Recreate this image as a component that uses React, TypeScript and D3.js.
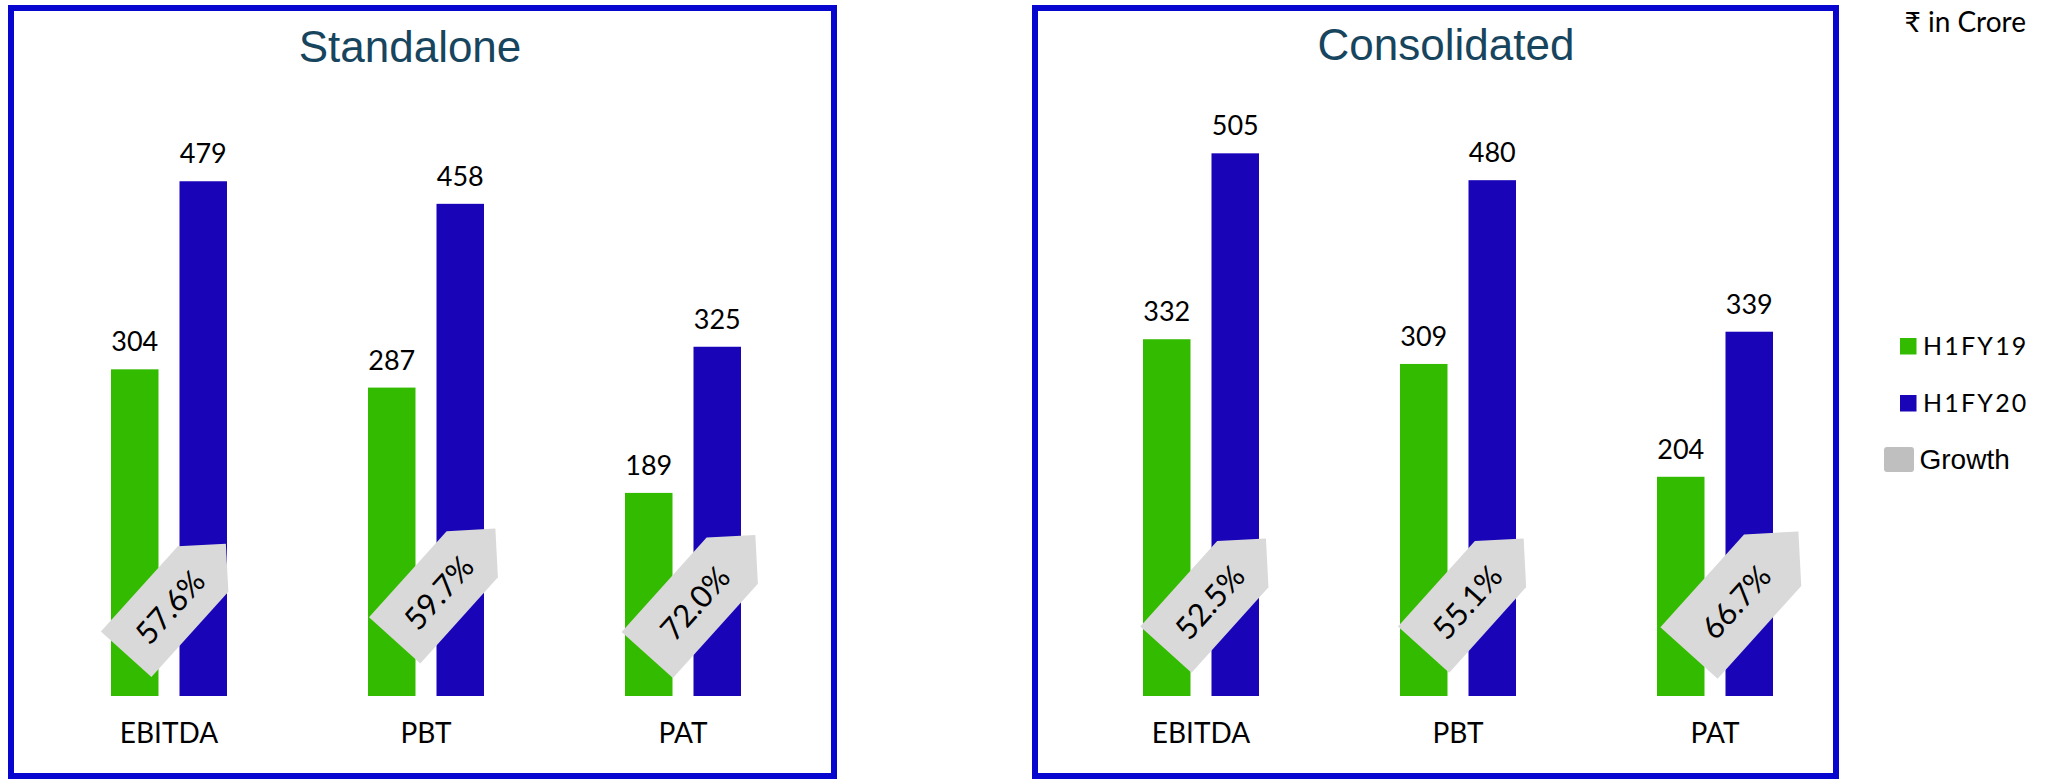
import React from "react";
import * as d3 from "d3";

// ---------- data ----------
const categories = ["EBITDA", "PBT", "PAT"];
const seriesNames = ["H1FY19", "H1FY20"];
const standaloneH1FY19 = [304, 287, 189];
const standaloneH1FY20 = [479, 458, 325];
const consolidatedH1FY19 = [332, 309, 204];
const consolidatedH1FY20 = [505, 480, 339];
const standaloneGrowth = ["57.6%", "59.7%", "72.0%"];
const consolidatedGrowth = ["52.5%", "55.1%", "66.7%"];
const panelTitles = ["Standalone", "Consolidated"];
const unitLabel = "₹ in Crore";
const growthLabel = "Growth";

// ---------- layout / style ----------
const W = 2049;
const H = 779;
const GREEN = "#33BB00";
const BLUE = "#1904B8";
const FRAME = "#0606CF";
const TAG = "#D9D9D9";
const TITLE = "#17455E";
const LATO = "Lato, 'Noto Sans', 'DejaVu Sans', sans-serif";
const ARIAL = "'Liberation Sans', Arial, sans-serif";

const y = d3.scaleLinear().domain([0, 500]).range([696, 158.7]);

type TagLayout = { dx: number; cy: number; len: number; h: number };

const panels = [
  {
    title: panelTitles[0],
    frame: { x0: 11, x1: 834 },
    titleX: 410,
    titleY: 62,
    range: [40.5, 811.5] as [number, number],
    a: standaloneH1FY19,
    b: standaloneH1FY20,
    growth: standaloneGrowth,
    tags: [
      { dx: 7, cy: 599, len: 115, h: 68 },
      { dx: 19, cy: 584.5, len: 116, h: 69 },
      { dx: 18.3, cy: 595, len: 127, h: 69 },
    ] as TagLayout[],
  },
  {
    title: panelTitles[1],
    frame: { x0: 1035, x1: 1836 },
    titleX: 1446,
    titleY: 60,
    range: [1072.5, 1843.5] as [number, number],
    a: consolidatedH1FY19,
    b: consolidatedH1FY20,
    growth: consolidatedGrowth,
    tags: [
      { dx: 14.9, cy: 594, len: 115, h: 69 },
      { dx: 15.6, cy: 594, len: 115, h: 69 },
      { dx: 28.7, cy: 592.3, len: 125, h: 77 },
    ] as TagLayout[],
  },
];

function Tag({ cx, cy, len, h, label }: { cx: number; cy: number; len: number; h: number; label: string }) {
  const total = len + h / 2;
  const x0 = -total / 2;
  const pts: [number, number][] = [
    [x0, -h / 2],
    [x0 + len, -h / 2],
    [x0 + total, 0],
    [x0 + len, h / 2],
    [x0, h / 2],
  ];
  return (
    <g transform={`translate(${cx},${cy}) rotate(-48)`}>
      <path d={(d3.line()(pts) as string) + "Z"} fill={TAG} />
      <text
        x={x0 + len / 2 + 7}
        y={12}
        textAnchor="middle"
        fontFamily={LATO}
        fontSize={31}
        fill="#000"
      >
        {label}
      </text>
    </g>
  );
}

function Panel({ p }: { p: (typeof panels)[number] }) {
  const x = d3.scaleBand<string>().domain(categories).range(p.range).paddingInner(0).paddingOuter(0);
  const inner = d3.scaleBand<string>().domain(seriesNames).range([-58, 58]).paddingInner(0.3066).paddingOuter(0);
  const bw = inner.bandwidth();
  const series = [
    { name: seriesNames[0], values: p.a, color: GREEN },
    { name: seriesNames[1], values: p.b, color: BLUE },
  ];
  return (
    <g>
      <rect
        x={p.frame.x0}
        y={8}
        width={p.frame.x1 - p.frame.x0}
        height={768}
        fill="none"
        stroke={FRAME}
        strokeWidth={6}
      />
      <text x={p.titleX} y={p.titleY} textAnchor="middle" fontFamily={ARIAL} fontSize={44} fill={TITLE}>
        {p.title}
      </text>
      {categories.map((c, i) => {
        const gc = (x(c) as number) + x.bandwidth() / 2;
        return (
          <g key={c}>
            {series.map((s) => {
              const bx = gc + (inner(s.name) as number);
              const top = y(s.values[i]);
              return (
                <g key={s.name}>
                  <rect x={bx} y={top} width={bw} height={y(0) - top} fill={s.color} />
                  <text
                    x={bx + bw / 2}
                    y={top - 18}
                    textAnchor="middle"
                    fontFamily={LATO}
                    fontSize={27}
                    fill="#000"
                  >
                    {s.values[i]}
                  </text>
                </g>
              );
            })}
            <text x={gc} y={743} textAnchor="middle" fontFamily={LATO} fontSize={28} fill="#000">
              {c}
            </text>
            <Tag cx={gc + p.tags[i].dx} cy={p.tags[i].cy} len={p.tags[i].len} h={p.tags[i].h} label={p.growth[i]} />
          </g>
        );
      })}
    </g>
  );
}

export default function App() {
  return (
    <svg
      width={W}
      height={H}
      viewBox={`0 0 ${W} ${H}`}
      style={{ position: "absolute", left: 0, top: 0, background: "#fff" }}
    >
      <rect x={0} y={0} width={W} height={H} fill="#fff" />
      {panels.map((p) => (
        <Panel key={p.title} p={p} />
      ))}
      <text x={2026} y={32} textAnchor="end" fontFamily={LATO} fontSize={28} fill="#000">
        {unitLabel}
      </text>
      {/* legend */}
      <rect x={1900} y={338} width={16.5} height={16.5} fill={GREEN} />
      <text x={1923} y={355} fontFamily={LATO} fontSize={25} letterSpacing={2.2} fill="#000">
        {seriesNames[0]}
      </text>
      <rect x={1900} y={395} width={16.5} height={16.5} fill={BLUE} />
      <text x={1923} y={412} fontFamily={LATO} fontSize={25} letterSpacing={2.2} fill="#000">
        {seriesNames[1]}
      </text>
      <rect x={1884} y={447} width={30} height={25} rx={3} fill="#BFBFBF" />
      <text x={1919.5} y={468.5} fontFamily={ARIAL} fontSize={28} fill="#000">
        {growthLabel}
      </text>
    </svg>
  );
}
